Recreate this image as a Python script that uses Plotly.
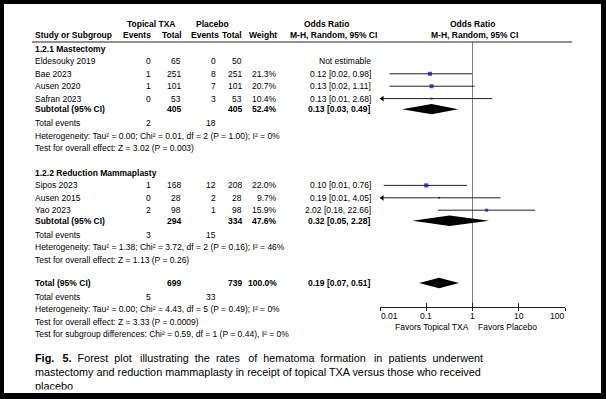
import plotly.graph_objects as go
import numpy as np

W, H = 606, 399
FONT = "Liberation Sans, Arial, sans-serif"

# ---------------- data ----------------
# 1.2.1 Mastectomy
mast_studies = ["Eldesouky 2019", "Bae 2023", "Ausen 2020", "Safran 2023"]
mast_txa_events = [0, 1, 1, 0]
mast_txa_total = [65, 251, 101, 53]
mast_pla_events = [0, 8, 7, 3]
mast_pla_total = [50, 251, 101, 53]
mast_weight = [None, 21.3, 20.7, 10.4]
mast_or = [None, 0.12, 0.13, 0.13]
mast_lo = [None, 0.016, 0.016, 0.006]
mast_hi = [None, 0.98, 1.11, 2.68]
mast_sub_ci = [0.13, 0.03, 0.49]
mast_sub_totals = [405, 405]
mast_sub_weight = 52.4
mast_events = [2, 18]
mast_het = "Heterogeneity: Tau² = 0.00; Chi² = 0.01, df = 2 (P = 1.00); I² = 0%"
mast_test = "Test for overall effect: Z = 3.02 (P = 0.003)"

# 1.2.2 Reduction Mammaplasty
red_studies = ["Sipos 2023", "Ausen 2015", "Yao 2023"]
red_txa_events = [1, 0, 2]
red_txa_total = [168, 28, 98]
red_pla_events = [12, 2, 1]
red_pla_total = [208, 28, 98]
red_weight = [22.0, 9.7, 15.9]
red_or = [0.10, 0.19, 2.02]
red_lo = [0.012, 0.009, 0.18]
red_hi = [0.76, 4.05, 22.66]
red_sub_ci = [0.32, 0.05, 2.28]
red_sub_totals = [294, 334]
red_sub_weight = 47.6
red_events = [3, 15]
red_het = "Heterogeneity: Tau² = 1.38; Chi² = 3.72, df = 2 (P = 0.16); I² = 46%"
red_test = "Test for overall effect: Z = 1.13 (P = 0.26)"

# Overall
tot_ci = [0.19, 0.07, 0.51]
tot_totals = [699, 739]
tot_weight = 100.0
tot_events = [5, 33]
tot_het = "Heterogeneity: Tau² = 0.00; Chi² = 4.43, df = 5 (P = 0.49); I² = 0%"
tot_test = "Test for overall effect: Z = 3.33 (P = 0.0009)"
subgroup_test = "Test for subgroup differences: Chi² = 0.59, df = 1 (P = 0.44), I² = 0%"

tick_vals = [0.01, 0.1, 1, 10, 100]
tick_labels = ["0.01", "0.1", "1", "10", "100"]
favors_left = "Favors Topical TXA"
favors_right = "Favors Placebo"

caption_words_1 = ["<b>Fig.", "5.</b>", "Forest", "plot", "illustrating", "the", "rates", "of",
                   "hematoma", "formation", "in", "patients", "underwent"]
caption_line_2 = "mastectomy and reduction mammaplasty in receipt of topical TXA versus those who received"
caption_line_3 = "placebo"

# ---------------- layout helpers ----------------
ROW0, ROWH = 49.0, 12.4


def px2row(p):
    return (p - ROW0) / ROWH


def fmt_ci(o, l, h):
    return f"{o:.2f} [{l:.2f}, {h:.2f}]"


COL_STUDY, COL_TE, COL_TT, COL_PE, COL_PT, COL_W, COL_CI = 34, 152, 182, 217, 243, 278, 372
AX_L, AX_R, AX_Y = 380, 565, 306.7
FS = 8.5

annotations = []


def txt(xp, row, text, anchor="right", bold=False, size=FS, yref="y"):
    annotations.append(dict(
        x=xp / W, xref="paper", y=row, yref=yref,
        text=f"<b>{text}</b>" if bold else text,
        showarrow=False, xanchor=anchor, yanchor="middle",
        font=dict(family=FONT, size=size, color="#000"), borderpad=0,
    ))


# headers
hr1, hr2 = -2.0, -1.1
txt(151, hr1, "Topical TXA", "center", True)
txt(212, hr1, "Placebo", "center", True)
txt(326, hr1, "Odds Ratio", "center", True)
txt(472.5, hr1, "Odds Ratio", "center", True)
txt(COL_STUDY, hr2, "Study or Subgroup", "left", True)
txt(COL_TE, hr2, "Events", "right", True)
txt(183, hr2, "Total", "right", True)
txt(220, hr2, "Events", "right", True)
txt(COL_PT, hr2, "Total", "right", True)
txt(COL_W, hr2, "Weight", "right", True)
txt(333, hr2, "M-H, Random, 95% CI", "center", True)
txt(474, hr2, "M-H, Random, 95% CI", "center", True)

forest_rows = []  # (or, lo, hi, weight, row)
diamonds = []  # (ci, row)


def section(title, start, studies, te, tt, pe, pt, wt, ors, los, his,
            sub_ci, sub_totals, sub_w, events, het, test):
    txt(COL_STUDY, start, title, "left", True)
    r = start
    for i, s in enumerate(studies):
        r = start + 1 + i
        txt(COL_STUDY, r, s, "left")
        txt(COL_TE, r, str(te[i]))
        txt(COL_TT, r, str(tt[i]))
        txt(COL_PE, r, str(pe[i]))
        txt(COL_PT, r, str(pt[i]))
        if wt[i] is not None:
            txt(COL_W, r, f"{wt[i]:.1f}%")
            txt(COL_CI, r, fmt_ci(ors[i], los[i], his[i]))
            forest_rows.append((ors[i], los[i], his[i], wt[i], r))
        else:
            txt(COL_CI, r, "Not estimable")
    rs = r + 0.85
    txt(COL_STUDY, rs, "Subtotal (95% CI)", "left", True)
    txt(COL_TT, rs, str(sub_totals[0]), bold=True)
    txt(COL_PT, rs, str(sub_totals[1]), bold=True)
    txt(COL_W, rs, f"{sub_w:.1f}%", bold=True)
    txt(COL_CI, rs, fmt_ci(*sub_ci), bold=True)
    diamonds.append((sub_ci, rs))
    re = r + 2
    txt(COL_STUDY, re, "Total events", "left")
    txt(COL_TE, re, str(events[0]))
    txt(COL_PE, re, str(events[1]))
    txt(COL_STUDY, re + 1, het, "left")
    txt(COL_STUDY, re + 2, test, "left")
    return re + 2


end1 = section("1.2.1 Mastectomy", 0, mast_studies, mast_txa_events, mast_txa_total,
               mast_pla_events, mast_pla_total, mast_weight, mast_or, mast_lo, mast_hi,
               mast_sub_ci, mast_sub_totals, mast_sub_weight, mast_events, mast_het, mast_test)
end2 = section("1.2.2 Reduction Mammaplasty", end1 + 2, red_studies, red_txa_events, red_txa_total,
               red_pla_events, red_pla_total, red_weight, red_or, red_lo, red_hi,
               red_sub_ci, red_sub_totals, red_sub_weight, red_events, red_het, red_test)

rt = end2 + 1.87
txt(COL_STUDY, rt, "Total (95% CI)", "left", True)
txt(COL_TT, rt, str(tot_totals[0]), bold=True)
txt(COL_PT, rt, str(tot_totals[1]), bold=True)
txt(COL_W, rt, f"{tot_weight:.1f}%", bold=True)
txt(COL_CI, rt, fmt_ci(*tot_ci), bold=True)
diamonds.append((tot_ci, rt))
r = end2 + 3
txt(COL_STUDY, r, "Total events", "left")
txt(COL_TE, r, str(tot_events[0]))
txt(COL_PE, r, str(tot_events[1]))
txt(COL_STUDY, r + 1, tot_het, "left")
txt(COL_STUDY, r + 2, tot_test, "left")
txt(COL_STUDY, r + 3, subgroup_test, "left")

# axis tick labels & favours labels (annotations on the log x axis)
lab_row = px2row(315.7)
for i, (v, lab) in enumerate(zip(tick_vals, tick_labels)):
    anchor = "left" if i == 0 else ("right" if i == len(tick_vals) - 1 else "center")
    annotations.append(dict(x=np.log10(v), xref="x", y=lab_row, yref="y", text=lab,
                            showarrow=False, xanchor=anchor, yanchor="middle", borderpad=0,
                            font=dict(family=FONT, size=FS, color="#000")))
fav_row = px2row(326.7)
annotations.append(dict(x=0, xref="x", y=fav_row, yref="y", text=favors_left, xshift=-3,
                        showarrow=False, xanchor="right", yanchor="middle", borderpad=0,
                        font=dict(family=FONT, size=FS, color="#000")))
annotations.append(dict(x=0, xref="x", y=fav_row, yref="y", text=favors_right, xshift=4,
                        showarrow=False, xanchor="left", yanchor="middle", borderpad=0,
                        font=dict(family=FONT, size=FS, color="#000")))

# ---------------- traces ----------------
fig = go.Figure()
XMIN = tick_vals[0]

# null line at OR = 1
fig.add_trace(go.Scatter(x=[1, 1], y=[px2row(42), px2row(AX_Y)], mode="lines",
                         line=dict(color="#808080", width=1), hoverinfo="skip", showlegend=False))

lx, ly, ax_, ay_ = [], [], [], []
for o, l, h, w, rr in forest_rows:
    lx += [max(l, XMIN), h, None]
    ly += [rr, rr, None]
    if l < XMIN:
        ax_.append(10 ** (np.log10(XMIN) + 0.05))
        ay_.append(rr)
fig.add_trace(go.Scatter(x=lx, y=ly, mode="lines", line=dict(color="#222", width=1),
                         hoverinfo="skip", showlegend=False))
fig.add_trace(go.Scatter(x=ax_, y=ay_, mode="markers",
                         marker=dict(symbol="triangle-left", size=5, color="#000"),
                         hoverinfo="skip", showlegend=False))
fig.add_trace(go.Scatter(x=[f[0] for f in forest_rows], y=[f[4] for f in forest_rows], mode="markers",
                         marker=dict(symbol="square", size=[f[3] * 0.19 for f in forest_rows],
                                     color="#0000CC", line=dict(width=0)),
                         hoverinfo="skip", showlegend=False))
DH = 0.42
for (o, l, h), rr in diamonds:
    fig.add_trace(go.Scatter(x=[l, o, h, o, l], y=[rr, rr - DH, rr, rr + DH, rr], mode="lines",
                             fill="toself", fillcolor="#000", line=dict(width=0, color="#000"),
                             hoverinfo="skip", showlegend=False))

# overlay axis for outward half of the tick marks
fig.add_trace(go.Scatter(x=[1], y=[None], xaxis="x2", yaxis="y", mode="markers",
                         showlegend=False, hoverinfo="skip"))

# caption (justified first line; clipped by the bottom border)
gaps = len(caption_words_1) - 1
pads = ["\u00a0\u2009" if i % 3 == 0 else "\u00a0" for i in range(gaps)]
line1 = caption_words_1[0]
for p, wd in zip(pads, caption_words_1[1:]):
    line1 += " " + p + wd
caption_lines = [line1, caption_line_2, caption_line_3]
CAP_TOP, CAP_BOT = 340, 389.5
fig.add_trace(go.Scatter(x=[35] * len(caption_lines), y=[359, 373, 387], mode="text",
                         text=caption_lines, textposition="middle right",
                         textfont=dict(family=FONT, size=10.85, color="#000"),
                         xaxis="x3", yaxis="y3", cliponaxis=True,
                         hoverinfo="skip", showlegend=False))

pos = 1 - AX_Y / H
fig.update_layout(
    width=W, height=H, margin=dict(l=0, r=0, t=0, b=0, pad=0),
    paper_bgcolor="#000", plot_bgcolor="rgba(0,0,0,0)",
    showlegend=False,
    xaxis=dict(type="log", range=[np.log10(tick_vals[0]), np.log10(tick_vals[-1])],
               domain=[AX_L / W, AX_R / W], anchor="free", position=pos,
               showline=True, linecolor="#222", linewidth=1, ticks="inside", ticklen=4,
               tickcolor="#222", tickvals=tick_vals, showticklabels=False,
               showgrid=False, zeroline=False, fixedrange=True),
    xaxis2=dict(type="log", range=[np.log10(tick_vals[0]), np.log10(tick_vals[-1])],
                domain=[AX_L / W, AX_R / W], anchor="free", position=pos, overlaying="x",
                showline=False, ticks="outside", ticklen=3, tickcolor="#222",
                tickvals=tick_vals, showticklabels=False, showgrid=False, zeroline=False),
    yaxis=dict(range=[px2row(H), px2row(0)], domain=[0, 1], visible=False, fixedrange=True),
    xaxis3=dict(range=[0, W], domain=[0, 1], visible=False, anchor="y3"),
    yaxis3=dict(range=[CAP_BOT, CAP_TOP], domain=[1 - CAP_BOT / H, 1 - CAP_TOP / H],
                visible=False, anchor="x3"),
    annotations=annotations,
    shapes=[
        dict(type="rect", xref="paper", yref="paper", x0=4 / W, x1=601 / W,
             y0=1 - 393 / H, y1=1 - 4 / H, fillcolor="#fff", line=dict(width=0), layer="below"),
        dict(type="line", xref="paper", yref="paper", x0=32 / W, x1=572 / W,
             y0=1 - 42 / H, y1=1 - 42 / H, line=dict(color="#222", width=1)),
    ],
)

fig.write_html("out.html", config={"displayModeBar": False},
               post_script="document.body.style.margin='0';document.body.style.overflow='hidden';")
